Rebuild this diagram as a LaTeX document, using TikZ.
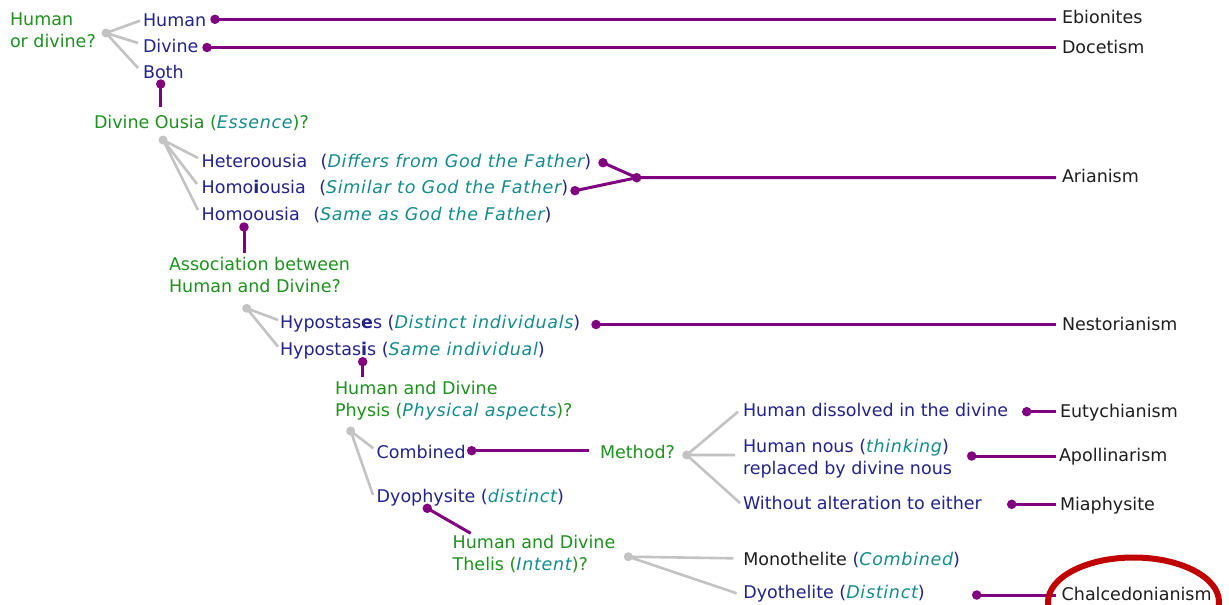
\documentclass[tikz,border=0pt]{standalone}
\usepackage{fontspec}
\setmainfont{DejaVu Sans}
\newfontfamily\itfam{DejaVu Sans}[LetterSpace=4]
\definecolor{qgreen}{RGB}{30,145,30}
\definecolor{anavy}{RGB}{35,35,140}
\definecolor{iteal}{RGB}{20,140,140}
\definecolor{ink}{RGB}{30,30,30}
\definecolor{lpurple}{RGB}{128,0,128}
\definecolor{lgray}{RGB}{195,195,195}
\definecolor{ringred}{RGB}{192,0,0}
\newcommand{\itl}[1]{{\color{iteal}\itfam\itshape #1}}
\tikzset{
  txt/.style={anchor=base west, inner sep=0pt, outer sep=0pt, font=\fontsize{17.5}{22}\selectfont},
  ques/.style={txt, text=qgreen},
  ans/.style={txt, text=anavy},
  res/.style={txt, text=ink},
  gdot/.style={circle, fill=lgray, inner sep=0pt, minimum size=9pt},
  pdot/.style={circle, fill=lpurple, inner sep=0pt, minimum size=9.5pt},
  gline/.style={draw=lgray, line width=2.6pt},
  pline/.style={draw=lpurple, line width=3pt},
  ring/.style={draw=ringred, line width=6pt}
}
\begin{document}
\begin{tikzpicture}[x=1pt,y=-1pt]
\useasboundingbox (0,0) rectangle (1229,605);
\fill[white] (0,0) rectangle (1229,605);

% ---------- texts ----------
\node[ques] (t1a) at (10,25) {Human};
\node[ques] (t1b) at (10,47) {or divine?};
\node[ans] (aHum) at (143,26) {Human};
\node[ans] (aDiv) at (143,52) {Divine};
\node[ans] (aBoth) at (143,78) {Both};
\node[res] (rEbi) at (1062,23.5) {Ebionites};
\node[res] (rDoc) at (1062,53.3) {Docetism};

\node[ques] (t2) at (94,128) {Divine Ousia (\itl{Essence})?};
\node[ans] (aHet) at (201.7,167.5) {Heteroousia\hspace{0.45em} (\itl{Differs from God the Father})};
\node[ans] (aHoi) at (201.7,193.3) {Homo\textbf{i}ousia\hspace{0.45em} (\itl{Similar to God the Father})};
\node[ans] (aHoo) at (201.7,220) {Homoousia\hspace{0.45em} (\itl{Same as God the Father})};
\node[res] (rAri) at (1062,182.7) {Arianism};

\node[ques] (t3a) at (169,270.7) {Association between};
\node[ques] (t3b) at (169,292.7) {Human and Divine?};
\node[ans] (aHes) at (280,328.3) {Hypostas\textbf{e}s (\itl{Distinct individuals})};
\node[ans] (aHis) at (280,355) {Hypostas\textbf{i}s (\itl{Same individual})};
\node[res] (rNes) at (1062,330.7) {Nestorianism};

\node[ques] (t4a) at (335,394) {Human and Divine};
\node[ques] (t4b) at (335,416) {Physis (\itl{Physical aspects})?};
\node[ans] (aComb) at (376.7,458.3) {Combined};
\node[ques] (t5) at (600,458.3) {Method?};
\node[ans] (aDyo) at (376.7,502.7) {Dyophysite (\itl{distinct})};

\node[ans] (aDis) at (743,416.7) {Human dissolved in the divine};
\node[ans] (aNousA) at (743,452.3) {Human nous (\itl{thinking})};
\node[ans] (aNousB) at (743,474.5) {replaced by divine nous};
\node[ans] (aWith) at (743,509) {Without alteration to either};
\node[res] (rEut) at (1060,417.7) {Eutychianism};
\node[res] (rApo) at (1059,461.7) {Apollinarism};
\node[res] (rMia) at (1060,510) {Miaphysite};

\node[ques] (t6a) at (452.7,548.3) {Human and Divine};
\node[ques] (t6b) at (452.7,570) {Thelis (\itl{Intent})?};
\node[res] (aMono) at (743.3,565) {Monothelite {\color{anavy}(}\itl{Combined}{\color{anavy})}};
\node[ans] (aDyot) at (743.3,598.3) {Dyothelite (\itl{Distinct})};
\node[res] (rCha) at (1061.7,600) {Chalcedonianism};

% ---------- gray question forks ----------
\node[gdot] (g1) at (106,33) {};
\coordinate (g1a) at (140,20.7);
\coordinate (g1b) at (138,43);
\coordinate (g1c) at (138,68);
\path[gline] (g1.center) -- (g1a) (g1.center) -- (g1b) (g1.center) -- (g1c);

\node[gdot] (g2) at (163,140) {};
\coordinate (g2a) at (198,158);
\coordinate (g2b) at (197,184);
\coordinate (g2c) at (198,210);
\path[gline] (g2.center) -- (g2a) (g2.center) -- (g2b) (g2.center) -- (g2c);

\node[gdot] (g3) at (246.7,308.3) {};
\coordinate (g3a) at (278,320);
\coordinate (g3b) at (278,346.7);
\path[gline] (g3.center) -- (g3a) (g3.center) -- (g3b);

\node[gdot] (g4) at (350.7,431) {};
\coordinate (g4a) at (373.3,448.3);
\coordinate (g4b) at (373,495);
\path[gline] (g4.center) -- (g4a) (g4.center) -- (g4b);

\node[gdot] (g5) at (686.7,455) {};
\coordinate (g5a) at (738,411.7);
\coordinate (g5b) at (735,455);
\coordinate (g5c) at (740,503);
\path[gline] (g5.center) -- (g5a) (g5.center) -- (g5b) (g5.center) -- (g5c);

\node[gdot] (g6) at (628.3,556.7) {};
\coordinate (g6a) at (733.3,558.3);
\coordinate (g6b) at (736.7,593.3);
\path[gline] (g6.center) -- (g6a) (g6.center) -- (g6b);

% ---------- purple links ----------
\coordinate (e1) at (1056,19.3);
\coordinate (e2) at (1056,47.5);
\coordinate (e3) at (160.7,107);
\coordinate (eAri) at (1056,177.5);
\coordinate (e6) at (244,253);
\coordinate (e7) at (1056,324.5);
\coordinate (e8) at (362.7,377);
\coordinate (e9) at (589.3,450.7);
\coordinate (e10) at (470.7,533.3);
\coordinate (e11) at (1056,411.7);
\coordinate (e12) at (1056,456);
\coordinate (e13) at (1056,504.3);
\coordinate (e14) at (1056,595);

\node[pdot] (p1) at (215,19.3) {};
\node[pdot] (p2) at (207,47.5) {};
\node[pdot] (p3) at (160.7,84) {};
\node[pdot] (p4) at (603,162.7) {};
\node[pdot] (p5) at (575,190.7) {};
\node[pdot] (pj) at (636.7,177.7) {};
\node[pdot] (p6) at (244,227) {};
\node[pdot] (p7) at (596,324.5) {};
\node[pdot] (p8) at (362.7,361.7) {};
\node[pdot] (p9) at (471.7,450.7) {};
\node[pdot] (p10) at (427.3,508.3) {};
\node[pdot] (p11) at (1026.7,411.7) {};
\node[pdot] (p12) at (971.7,456) {};
\node[pdot] (p13) at (1011.7,504.3) {};
\node[pdot] (p14) at (976.7,595) {};

\path[pline] (p1.center) -- (e1);
\path[pline] (p2.center) -- (e2);
\path[pline] (p3.center) -- (e3);
\path[pline] (p4.center) -- (pj.center);
\path[pline] (p5.center) -- (pj.center);
\path[pline] (pj.center) -- (eAri);
\path[pline] (p6.center) -- (e6);
\path[pline] (p7.center) -- (e7);
\path[pline] (p8.center) -- (e8);
\path[pline] (p9.center) -- (e9);
\path[pline] (p10.center) -- (e10);
\path[pline] (p11.center) -- (e11);
\path[pline] (p12.center) -- (e12);
\path[pline] (p13.center) -- (e13);
\path[pline] (p14.center) -- (e14);

% ---------- highlight ring ----------
\draw[ring] (1133.5,602) ellipse [x radius=85.5pt, y radius=44.5pt];
\end{tikzpicture}
\end{document}
